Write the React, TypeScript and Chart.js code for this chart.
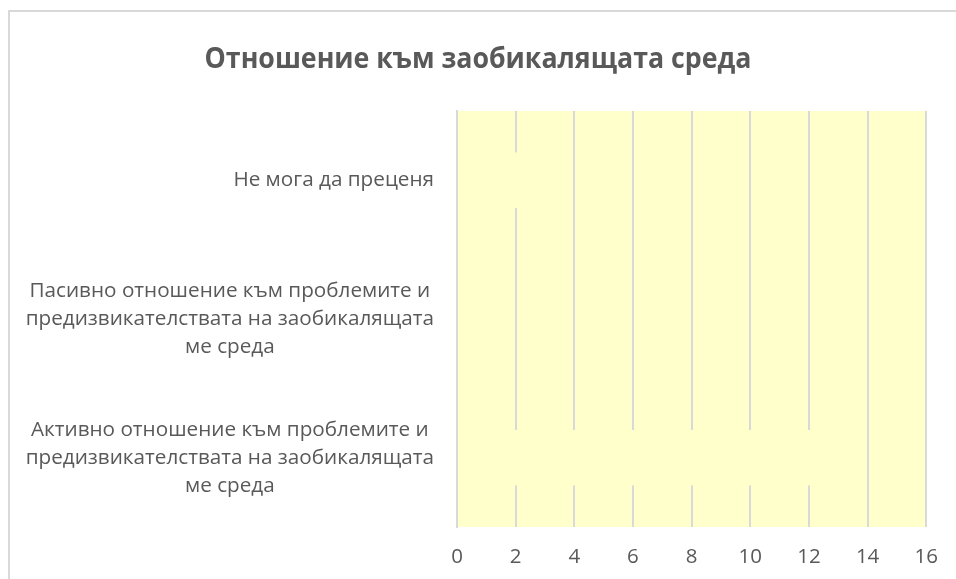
import React, { useEffect, useRef } from "react";
import { Chart, registerables } from "chart.js";

Chart.register(...registerables);

const titleText = "Отношение към заобикалящата среда";
const categories: string[][] = [
  ["Не мога да преценя"],
  ["Пасивно отношение към проблемите и", "предизвикателствата на заобикалящата", "ме среда"],
  ["Активно отношение към проблемите и", "предизвикателствата на заобикалящата", "ме среда"],
];
const values = [3, 1, 13];
const xTicks = [0, 2, 4, 6, 8, 10, 12, 14, 16];

const FONT = "'Open Sans', 'Noto Sans', sans-serif";
const TEXT = "#595959";
const GRID = "#d9d9d9";
const PLOT_BG = "#FFFFCC";

const plotBg = {
  id: "plotBg",
  beforeDraw(chart: any) {
    const { ctx, chartArea } = chart;
    if (!chartArea) return;
    ctx.save();
    ctx.fillStyle = PLOT_BG;
    ctx.fillRect(chartArea.left, chartArea.top, chartArea.right - chartArea.left, chartArea.bottom - chartArea.top);
    ctx.restore();
  },
};

const titleDraw = {
  id: "titleDraw",
  afterDraw(chart: any) {
    const { ctx, width } = chart;
    ctx.save();
    ctx.font = `bold 28px ${FONT}`;
    ctx.fillStyle = TEXT;
    ctx.textAlign = "center";
    ctx.textBaseline = "middle";
    ctx.translate(width / 2, 60);
    ctx.scale(0.955, 1);
    ctx.fillText(titleText, 0, 0);
    ctx.restore();
  },
};

const catLabels = {
  id: "catLabels",
  afterDraw(chart: any) {
    const { ctx, chartArea } = chart;
    const yScale = chart.scales.y;
    ctx.save();
    ctx.font = `20.7px ${FONT}`;
    ctx.fillStyle = TEXT;
    ctx.textAlign = "center";
    ctx.textBaseline = "middle";
    const lh = 28;
    const right = chartArea.left - 23;
    categories.forEach((lines, i) => {
      const py = yScale.getPixelForTick(i);
      const w = Math.max(...lines.map((l) => ctx.measureText(l).width));
      const cx = right - w / 2;
      const start = py - ((lines.length - 1) * lh) / 2;
      lines.forEach((l, j) => ctx.fillText(l, cx, start + j * lh));
    });
    ctx.restore();
  },
};

export default function App() {
  const ref = useRef<HTMLCanvasElement>(null);
  useEffect(() => {
    if (!ref.current) return;
    const chart = new Chart(ref.current, {
      type: "bar",
      data: {
        labels: categories.map((c) => c.join(" ")),
        datasets: [
          {
            data: values,
            backgroundColor: PLOT_BG,
            borderWidth: 0,
            categoryPercentage: 1,
            barPercentage: 0.4,
          },
        ],
      },
      options: {
        indexAxis: "y",
        animation: false,
        responsive: false,
        maintainAspectRatio: false,
        events: [],
        layout: { padding: { left: 0, right: 28, top: 111, bottom: 0 } },
        plugins: {
          legend: { display: false },
          tooltip: { enabled: false },
          title: { display: false },
        },
        scales: {
          x: {
            min: 0,
            max: 16,
            afterBuildTicks: (scale: any) => {
              scale.ticks = xTicks.map((v) => ({ value: v }));
            },
            afterFit: (scale: any) => {
              scale.height = 52;
            },
            grid: { color: GRID, lineWidth: 2, drawTicks: false },
            border: { display: false },
            ticks: {
              color: TEXT,
              font: { family: FONT, size: 20.5 },
              padding: 18,
            },
          },
          y: {
            z: 1,
            afterFit: (scale: any) => {
              scale.width = 457;
            },
            grid: { display: false, drawTicks: false },
            border: { display: true, color: GRID, width: 2 },
            ticks: { display: false },
          },
        },
      },
      plugins: [plotBg, catLabels, titleDraw],
    });
    return () => chart.destroy();
  }, []);

  return (
    <div style={{ position: "fixed", left: 0, top: 0, width: 956, height: 579, background: "#fff", overflow: "hidden" }}>
      <div
        style={{
          position: "absolute",
          left: 8,
          top: 10,
          width: 980,
          height: 620,
          border: "2px solid #d9d9d9",
          boxSizing: "border-box",
        }}
      />
      <canvas ref={ref} width={956} height={579} style={{ position: "absolute", left: 0, top: 0, width: 956, height: 579 }} />
    </div>
  );
}
